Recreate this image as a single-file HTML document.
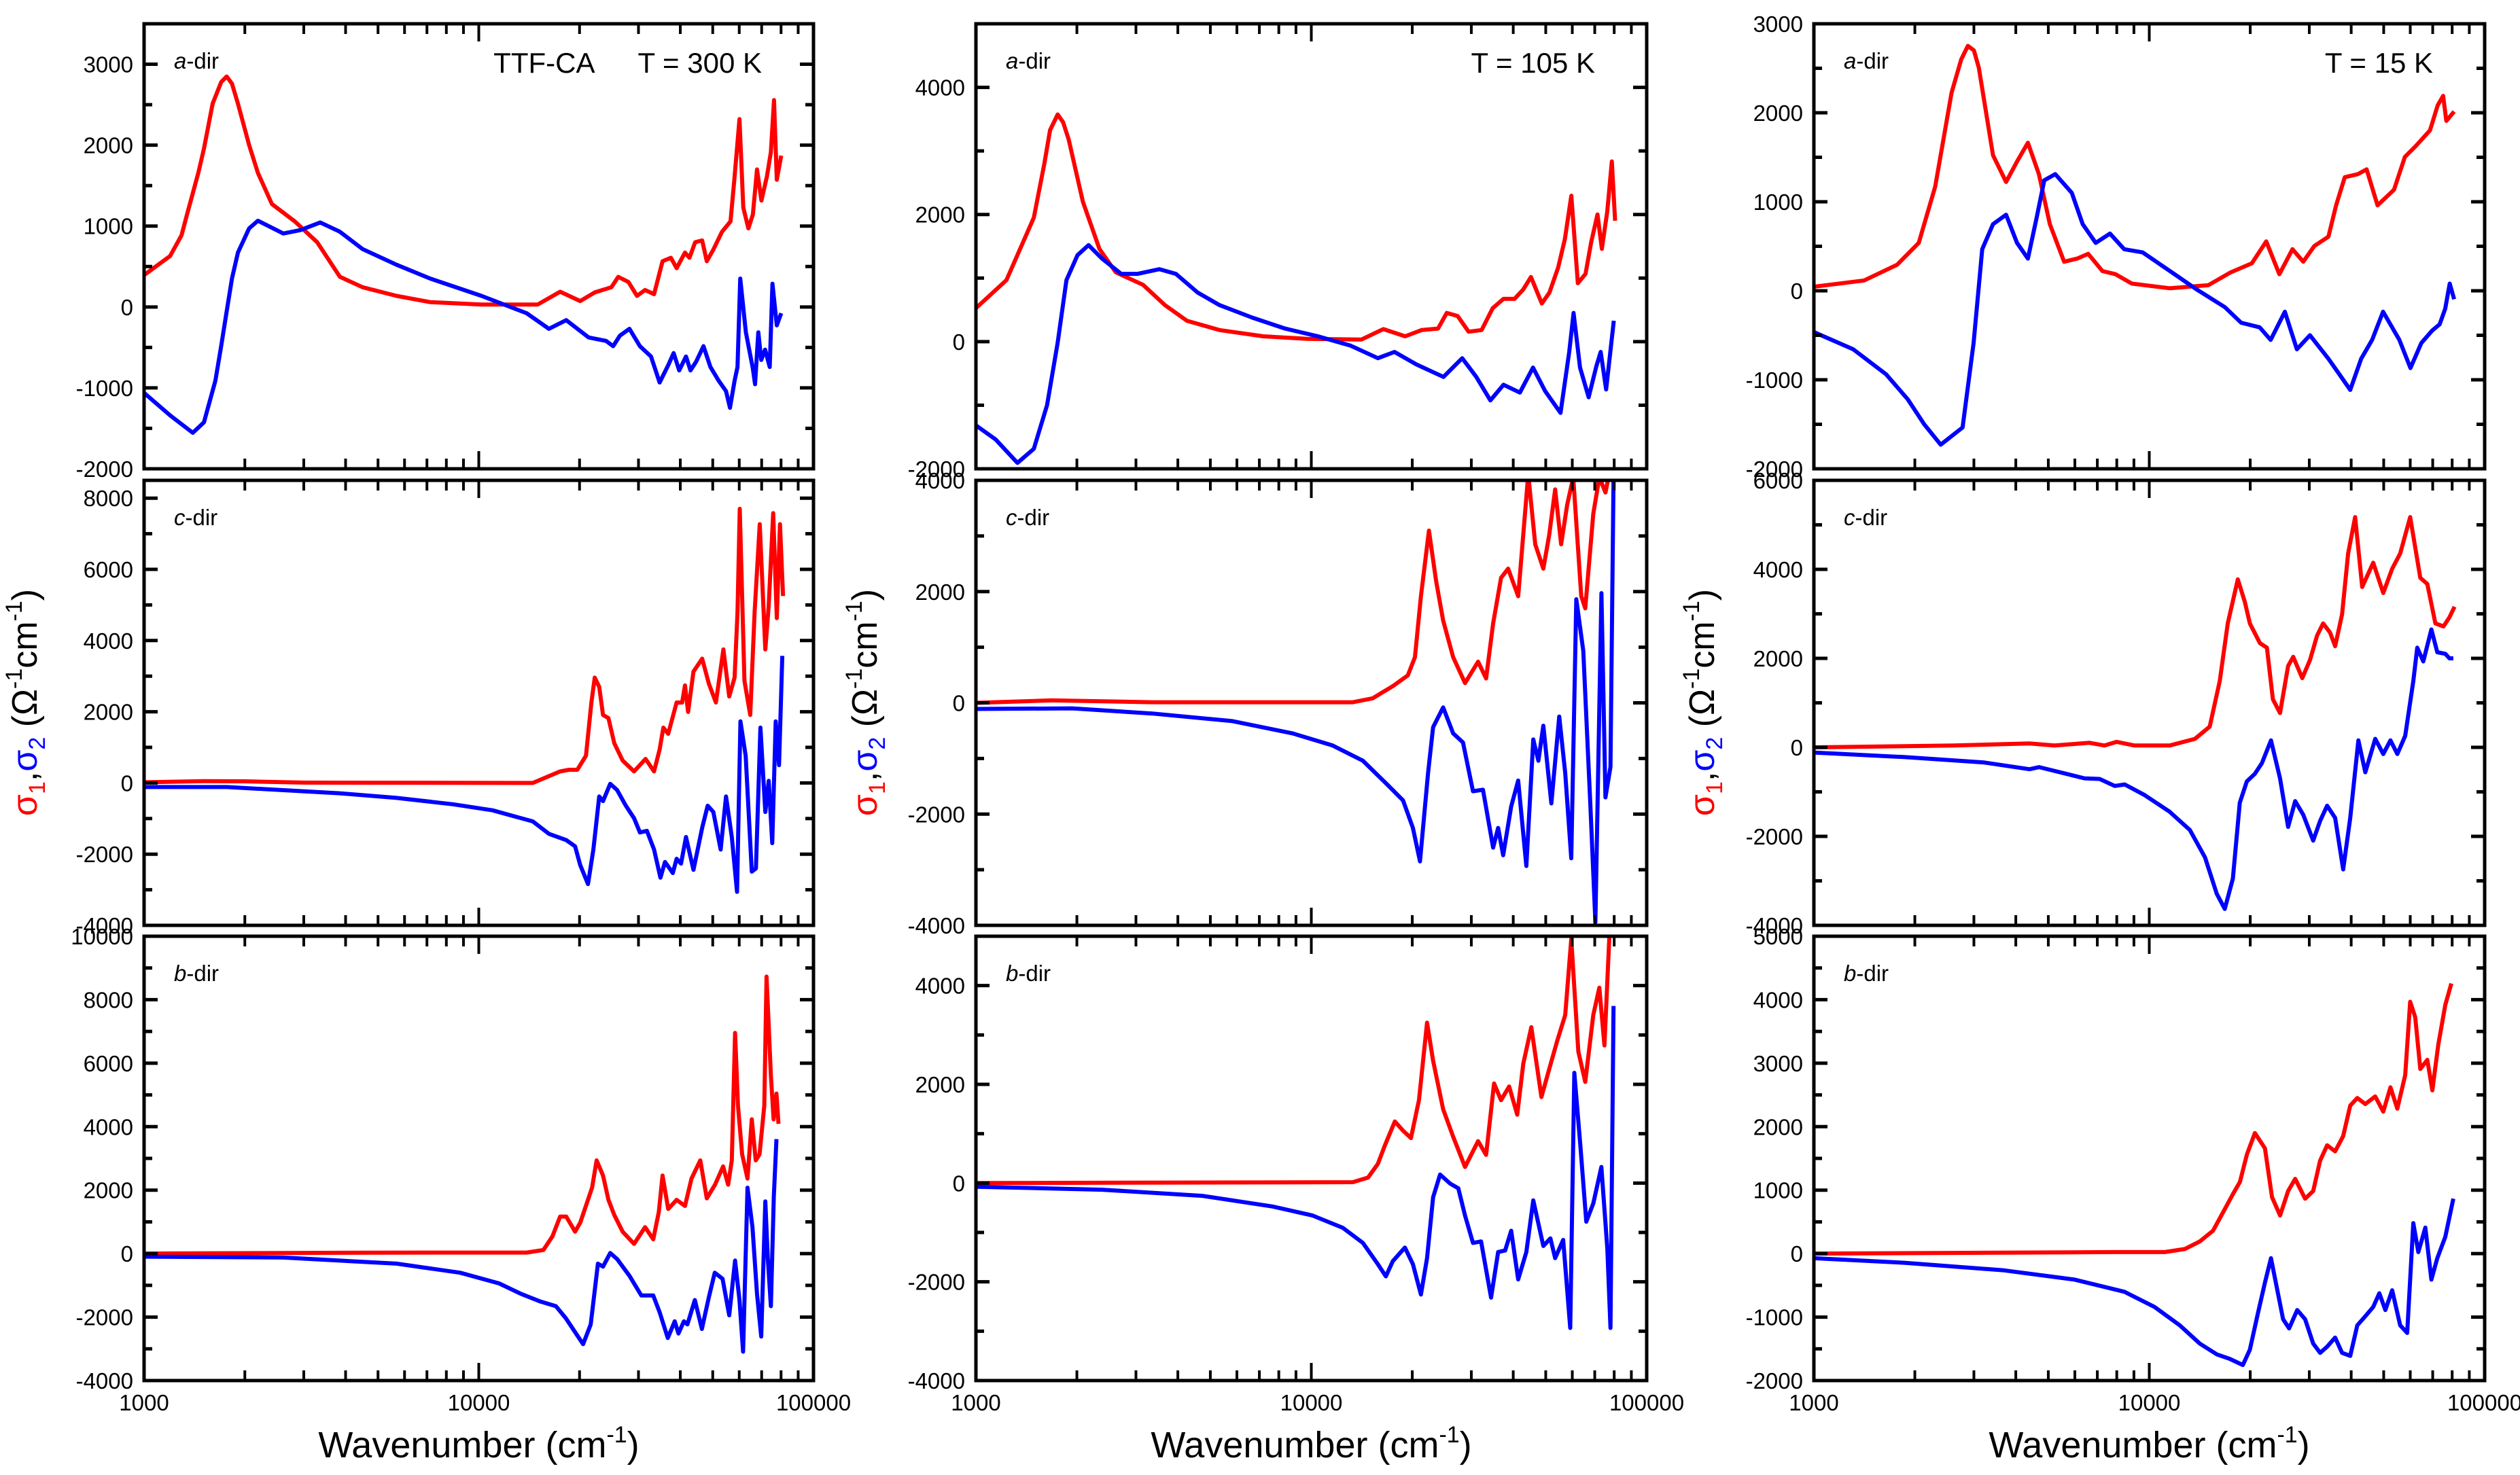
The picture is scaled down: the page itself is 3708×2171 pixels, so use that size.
<!DOCTYPE html>
<html><head><meta charset="utf-8"><style>
html,body{margin:0;padding:0;background:#fff;}
svg{display:block;font-family:"Liberation Sans",Arial,sans-serif;}
</style></head><body>
<svg id="fig" width="3708" height="2171" viewBox="0 0 3708 2171" xmlns="http://www.w3.org/2000/svg"></svg>
<script>
// ---------- DATA (wavenumber cm^-1, conductivity Ohm^-1 cm^-1) ----------
// a-dir 300 K
const w_a300_s1=[1000,1100,1196,1294,1344,1452,1510,1603,1700,1765,1830,1907,2060,2188,2410,2820,3290,3845,4500,5680,7160,10190,15000,17500,20100,22200,24900,26100,28000,29700,31400,33400,35400,37500,39000,41300,42600,44300,46500,48000,50300,53300,56500,58000,60100,61700,63900,65900,67800,69900,72600,74600,76200,77700,80100];
const v_a300_s1=[394,520,630,886,1143,1657,1957,2513,2780,2848,2760,2513,2000,1657,1272,1058,800,373,244,137,60,30,30,188,73,180,244,372,308,137,210,158,565,608,480,672,608,800,822,565,715,930,1058,1572,2321,1229,972,1143,1700,1315,1615,1914,2557,1572,1870];
const w_a300_s2=[1000,1196,1398,1510,1633,1700,1765,1830,1907,2060,2188,2606,2930,3360,3845,4500,5680,7160,10190,13900,16200,18250,21300,24000,25200,26400,28200,30300,32700,34700,36800,38200,39700,41600,42900,44600,46900,49200,52100,54800,56300,58100,59300,60400,62800,65900,66900,68400,69800,71700,74000,75400,77700,80100];
const v_a300_s2=[-1062,-1340,-1555,-1426,-912,-480,-56,350,672,972,1066,908,950,1045,930,715,522,351,137,-77,-270,-163,-377,-420,-484,-355,-270,-484,-612,-934,-720,-570,-784,-612,-784,-677,-484,-741,-912,-1040,-1246,-912,-741,351,-313,-762,-955,-313,-655,-527,-741,287,-227,-77];
// c-dir 300 K
const w_c300_s1=[1000,1500,2000,3000,14500,17500,18600,19700,20900,21700,22200,22900,23500,24400,25400,26900,29100,31500,33400,34700,35600,36800,39000,40500,41300,42200,43800,46500,48700,51100,53800,56000,58100,59300,60200,62200,64700,66700,69100,71800,73500,75800,77700,79400,81100];
const v_c300_s1=[20,50,45,10,0,325,370,370,765,2260,2960,2700,1910,1820,1115,630,325,675,325,940,1555,1380,2260,2260,2740,1995,3130,3490,2785,2260,3750,2430,2960,4800,7700,2870,1910,4810,7270,3750,4980,7580,4630,7270,5250];
const w_c300_s2=[1000,1765,3845,5680,8380,11000,14500,16200,18250,19400,20100,21200,22000,22900,23500,24700,25900,27500,29100,30300,31800,33400,34900,36000,38000,39000,40200,41600,43800,46500,48300,50200,52800,54800,57000,59100,60500,62700,65400,67300,69400,71800,73500,75300,77100,78900,80700];
const v_c300_s2=[-114,-114,-290,-420,-600,-770,-1080,-1430,-1605,-1780,-2310,-2840,-1870,-380,-510,-25,-200,-640,-990,-1390,-1345,-1870,-2660,-2220,-2530,-2130,-2265,-1520,-2440,-1260,-640,-815,-1870,-380,-1520,-3060,1730,765,-2490,-2400,1555,-815,60,-1690,1730,500,3570];
// b-dir 300 K
const w_b300_s1=[1000,5000,13900,15600,16600,17500,18250,19400,20100,21800,22500,23500,24400,25400,26900,29100,31400,33200,34500,35400,36800,39000,41300,43200,45900,48000,50800,53700,55600,57000,58300,59500,61200,63500,65400,67200,69000,71300,72400,74600,76000,77500,78600];
const v_b300_s1=[0,30,33,115,545,1167,1167,690,976,2077,2938,2460,1694,1215,690,306,833,450,1311,2460,1407,1694,1502,2364,2938,1742,2172,2747,2172,2938,6957,4660,3130,2364,4230,2938,3130,4660,8728,5617,4230,5043,4087];
const w_b300_s2=[1000,2600,5680,8800,11500,13400,15300,17000,18200,20500,21600,22700,23500,24700,25900,28200,30600,33200,34700,36700,38500,39500,41000,42000,44200,46400,48700,50700,53500,56000,58300,60100,61600,63500,65700,67800,69800,71800,73000,74600,76100,77500];
const v_b300_s2=[-96,-124,-316,-603,-938,-1273,-1512,-1656,-2038,-2852,-2230,-316,-411,19,-172,-699,-1320,-1320,-1847,-2660,-2134,-2517,-2134,-2230,-1464,-2373,-1368,-603,-794,-1943,-220,-1464,-3091,2077,833,-1273,-2613,1646,-124,-1656,1790,3608];
// a-dir 105 K
const w_a105_s1=[1000,1233,1488,1600,1664,1753,1820,1891,2085,2334,2612,3150,3660,4256,5326,7193,9709,14120,16400,19050,21320,23870,25340,27310,29440,32200,34740,37420,40350,42850,45170,48670,51300,54450,57000,59600,62330,65720,68270,71340,73500,76300,78700,80500];
const v_a105_s1=[526,968,1951,2800,3327,3573,3450,3180,2197,1459,1091,894,575,329,182,84,44,34,197,84,182,206,452,403,157,182,526,673,673,821,1017,600,772,1165,1607,2295,919,1066,1558,2000,1459,2050,2835,1902];
const w_a105_s2=[1000,1145,1330,1488,1630,1753,1862,2009,2167,2371,2712,3034,3525,3947,4584,5326,6670,8350,10470,13100,15800,17700,20570,24780,28170,31050,34200,37420,41860,45820,49780,55340,58760,60530,63270,67150,70790,72900,75700,79800];
const v_a105_s2=[-1317,-1538,-1907,-1686,-998,-15,968,1361,1518,1312,1066,1066,1140,1066,772,575,378,206,84,-64,-260,-162,-359,-555,-260,-555,-924,-678,-801,-408,-776,-1120,-162,452,-408,-875,-383,-162,-752,329];
// c-dir 105 K
const w_c105_s1=[1000,1687,3356,13300,15240,17500,19400,20370,21230,22430,23550,24720,26480,28730,31420,33200,34840,36800,38620,41380,44340,46530,49180,51200,53330,55580,57930,60380,63800,65590,69290,72250,75330,79620];
const v_c105_s1=[0,44,11,11,82,301,493,822,1918,3096,2192,1480,822,356,740,438,1425,2247,2412,1918,4110,2850,2412,3014,3836,2850,3562,4055,1918,1699,3397,4055,3781,4500];
const w_c105_s2=[1000,1936,3356,5822,8790,11580,14250,16920,18770,20090,21090,22290,23070,24720,26480,28330,30350,32500,34840,36060,37320,39450,41380,43760,45890,47540,49180,51960,54850,57140,59570,61660,64710,67900,70310,73280,75330,78000,79620];
const v_c105_s2=[-110,-99,-192,-329,-548,-767,-1041,-1480,-1754,-2248,-2850,-1260,-438,-82,-548,-712,-1589,-1562,-2603,-2248,-2740,-1863,-1397,-2932,-658,-1041,-411,-1808,-247,-1260,-2795,1863,932,-1808,-3945,1973,-1699,-1151,4055];
// b-dir 105 K
const w_b105_s1=[1000,13300,14760,15790,16560,17740,18750,19820,20940,22140,23070,24720,26480,28730,31420,33200,35060,36800,38900,41110,42850,45290,48550,51290,54080,57140,59570,62540,65590,69290,72250,74800,77400];
const v_b105_s1=[0,18,111,388,757,1249,1065,911,1680,3249,2480,1495,941,326,849,572,2018,1680,1957,1385,2419,3157,1742,2326,2880,3403,4942,2665,2049,3403,3957,2788,5003];
const w_b105_s2=[1000,2381,4732,7670,10090,12410,14250,15790,16680,17500,19010,20090,21230,22140,23070,24210,25950,27430,28730,30350,32070,34360,36060,37840,39450,41380,43760,45890,49180,51620,53330,56370,59160,60850,63420,66060,69290,73250,76330,78000,79620];
const v_b105_s2=[-74,-135,-258,-474,-658,-905,-1212,-1643,-1889,-1582,-1305,-1643,-2258,-1520,-289,172,-12,-105,-658,-1212,-1182,-2320,-1397,-1366,-966,-1951,-1397,-351,-1274,-1120,-1520,-1151,-2935,2234,757,-782,-412,326,-1336,-2935,3588];
// a-dir 15 K
const w_a15_s1=[1000,1412,1770,2054,2300,2573,2750,2878,3000,3103,3421,3742,4033,4347,4687,5054,5572,6098,6574,7250,7930,8870,11530,15010,17420,20230,22320,24420,26730,28790,31040,34210,36060,38280,41890,44470,47940,53660,57830,62340,68720,72440,75180,76880,81090];
const v_a15_s1=[46,116,292,538,1170,2225,2600,2752,2700,2506,1522,1223,1452,1663,1311,749,327,362,415,221,186,81,28,63,204,309,555,186,467,327,503,608,960,1276,1311,1364,960,1135,1504,1627,1803,2084,2190,1909,2014];
const w_a15_s2=[1000,1310,1641,1906,2133,2388,2775,2993,3177,3421,3742,4033,4347,4614,4863,5245,5874,6329,6925,7635,8420,9550,11530,13900,16790,18790,21340,23010,25370,27550,30130,34210,36880,39740,42840,46170,49770,55680,60070,64750,69780,73440,76300,78690,81090];
const v_a15_s2=[-464,-657,-938,-1220,-1501,-1729,-1536,-587,467,749,854,538,362,819,1241,1311,1100,749,538,643,467,432,221,11,-183,-359,-411,-552,-235,-657,-499,-763,-938,-1114,-763,-552,-235,-552,-868,-587,-446,-376,-200,81,-95,-60];
// c-dir 15 K
const w_c15_s1=[1000,2620,4395,5217,6632,7358,7995,9040,11500,13680,15140,16220,17140,18370,19280,19950,21380,22430,23370,24540,25940,26860,28590,30160,31640,32980,34600,35830,37580,39170,41100,43130,46530,49860,52990,55980,59980,64270,67460,71290,75370,78540,81310];
const v_c15_s1=[0,41,89,41,102,41,123,41,41,191,464,1488,2785,3775,3263,2785,2341,2239,1079,771,1829,2034,1556,1966,2512,2785,2580,2273,2990,4355,5174,3604,4150,3468,4014,4355,5174,3809,3672,2785,2717,2922,3160];
const w_c15_s2=[1000,1858,3219,4395,4697,6411,7110,7888,8451,9685,11500,13210,14660,15890,16790,17750,18620,19540,20650,21670,23060,24540,25940,27230,28790,30810,32320,33910,35830,37850,39730,42020,44080,47180,49860,52380,54900,57970,61260,62960,65610,69350,72240,76340,78540,80660];
const v_c15_s2=[-116,-218,-341,-491,-444,-696,-710,-867,-833,-1072,-1447,-1857,-2471,-3290,-3631,-2949,-1242,-765,-594,-355,157,-696,-1788,-1208,-1516,-2096,-1652,-1311,-1584,-2744,-1584,157,-560,191,-150,157,-150,259,1488,2239,1932,2649,2137,2102,2000,2000];
// b-dir 15 K
const w_b15_s1=[1000,7890,11120,12760,14150,15490,16590,17760,18630,19550,20650,22130,23220,24550,25940,27230,29150,30810,32320,33910,35830,37850,39730,41720,44080,47180,49860,52380,54900,57970,59980,62070,64270,67460,69830,72750,76340,79560];
const v_b15_s1=[0,24,24,72,192,361,649,938,1130,1563,1899,1659,890,601,986,1178,865,986,1466,1707,1611,1851,2332,2452,2356,2476,2236,2620,2284,2813,3967,3726,2909,3053,2572,3294,3919,4255];
const w_b15_s2=[1000,1858,3691,5988,8430,10370,12330,14150,15890,17380,19010,19950,21090,22130,23060,24040,25060,26120,27610,29150,30810,32320,33910,35830,37580,39730,41720,44080,46530,48530,50580,52990,55980,58760,61260,63410,66530,69350,72240,76340,80660];
const v_b15_s2=[-72,-144,-264,-409,-601,-841,-1130,-1418,-1587,-1659,-1755,-1514,-938,-457,-72,-553,-1034,-1178,-889,-1034,-1418,-1563,-1466,-1322,-1563,-1611,-1130,-986,-841,-625,-889,-577,-1130,-1250,481,24,409,-409,-72,265,865];

// ---------- Panel axis ranges ----------
const yMin=[[-2000,-4000,-4000],[-2000,-4000,-4000],[-2000,-4000,-2000]]; // [col][row]
const yMax=[[3500,8500,10000],[5000,4000,5000],[3000,6000,5000]];
const yStep=[[1000,2000,2000],[2000,2000,2000],[1000,2000,1000]];
const dirLabels=["a","c","b"];
const tempLabels=["TTF-CA\u2003\u2002T = 300 K","T = 105 K","T = 15 K"];

const S1=[[w_a300_s1,v_a300_s1],[w_c300_s1,v_c300_s1],[w_b300_s1,v_b300_s1],[w_a105_s1,v_a105_s1],[w_c105_s1,v_c105_s1],[w_b105_s1,v_b105_s1],[w_a15_s1,v_a15_s1],[w_c15_s1,v_c15_s1],[w_b15_s1,v_b15_s1]];
const S2=[[w_a300_s2,v_a300_s2],[w_c300_s2,v_c300_s2],[w_b300_s2,v_b300_s2],[w_a105_s2,v_a105_s2],[w_c105_s2,v_c105_s2],[w_b105_s2,v_b105_s2],[w_a15_s2,v_a15_s2],[w_c15_s2,v_c15_s2],[w_b15_s2,v_b15_s2]];

// ---------- Layout ----------
const colX=[[212,1197],[1436,2423],[2669,3656]];
const rowY=[[35,690],[707,1362],[1378,2032]];
const NS="http://www.w3.org/2000/svg";
const svg=document.getElementById('fig');
function mk(tag,attrs,parent){const e=document.createElementNS(NS,tag);for(const k in attrs)e.setAttribute(k,attrs[k]);(parent||svg).appendChild(e);return e;}
const defs=mk('defs',{});

for(let c=0;c<3;c++){
  const x0=colX[c][0],x1=colX[c][1];
  for(let r=0;r<3;r++){
    const y0=rowY[r][0],y1=rowY[r][1];
    const ymn=yMin[c][r],ymx=yMax[c][r],st=yStep[c][r];
    const xs=w=>x0+(Math.log10(w)-3)/2*(x1-x0);
    const ys=v=>y1-(v-ymn)/(ymx-ymn)*(y1-y0);
    const g=mk('g',{});
    
    
    const cp=mk('clipPath',{id:'cp'+c+r},defs);
    mk('rect',{x:x0,y:y0,width:x1-x0,height:y1-y0},cp);
    const draw=(pair,color,name)=>{
      const w=pair[0],v=pair[1];let d='';
      for(let i=0;i<w.length;i++)d+=(i?'L':'M')+xs(w[i]).toFixed(1)+' '+ys(v[i]).toFixed(1);
      const p=mk('path',{d:d,fill:'none',stroke:color,'stroke-width':6,'stroke-linejoin':'round','clip-path':'url(#cp'+c+r+')'},g);
      
      
    };
    draw(S1[c*3+r],'#ff0000','sigma1-line');
    draw(S2[c*3+r],'#0000ff','sigma2-line');
    const fr=mk('rect',{x:x0,y:y0,width:x1-x0,height:y1-y0,fill:'none',stroke:'#000','stroke-width':5},g);
    
    
    for(let dec=1000;dec<=10000;dec*=10){
      for(let m=1;m<=10;m++){
        const w=dec*m; if(m===10&&dec!==10000)continue;
        const X=xs(w),L=(m===1||m===10)?26:15;
        mk('line',{x1:X,y1:y1,x2:X,y2:y1-L,stroke:'#000','stroke-width':4},g);
        mk('line',{x1:X,y1:y0,x2:X,y2:y0+L,stroke:'#000','stroke-width':4},g);
      }
    }
    for(let v=Math.ceil(ymn/(st/2))*(st/2);v<=ymx+1e-6;v+=st/2){
      const Y=ys(v),major=Math.abs(v/st-Math.round(v/st))<1e-6,L=major?20:12;
      mk('line',{x1:x0,y1:Y,x2:x0+L,y2:Y,stroke:'#000','stroke-width':5},g);
      mk('line',{x1:x1,y1:Y,x2:x1-L,y2:Y,stroke:'#000','stroke-width':5},g);
      if(major){
        const t=mk('text',{x:x0-16,y:Y+12,'text-anchor':'end','font-size':33,fill:'#000'},g);
        t.textContent=String(v);
        
        
      }
    }
    const dl=mk('text',{x:x0+44,y:y0+66,'font-size':33,fill:'#000'},g);
    
    
    const it=mk('tspan',{'font-style':'italic'},dl);it.textContent=dirLabels[r];
    const rest=mk('tspan',{},dl);rest.textContent='-dir';
    if(r===0){
      const tl=mk('text',{x:x1-76,y:y0+72,'text-anchor':'end','font-size':42,fill:'#000',style:'white-space:pre'},g);
      tl.textContent=tempLabels[c];
      
      
    }
    if(r===2){
      [[1000,'1000'],[10000,'10000'],[100000,'100000']].forEach(a=>{
        const t=mk('text',{x:xs(a[0]),y:y1+44,'text-anchor':'middle','font-size':33,fill:'#000'},g);
        t.textContent=a[1];
        
        
      });
    }
  }
  const xt=mk('text',{x:(x0+x1)/2,y:2145,'text-anchor':'middle','font-size':54,fill:'#000'});
  
  
  xt.appendChild(document.createTextNode('Wavenumber (cm'));
  const sp=mk('tspan',{'font-size':34,dy:-22},xt);sp.textContent='-1';
  const sp2=mk('tspan',{dy:22},xt);sp2.textContent=')';
  const yx=[54,1290,2522][c];
  const yt=mk('text',{transform:'translate('+yx+',1034) rotate(-90)','text-anchor':'middle','font-size':52,fill:'#000'});
  
  
  const parts=[['σ','#ff0000',0,52],['1','#ff0000',12,34],[',','#000',-12,52],['σ','#0000ff',0,52],['2','#0000ff',12,34],[' (Ω','#000',-12,52],['-1','#000',-22,34],['cm','#000',22,52],['-1','#000',-22,34],[')','#000',22,52]];
  parts.forEach(p=>{const t=mk('tspan',{fill:p[1],dy:p[2],'font-size':p[3]},yt);t.textContent=p[0];});
}
</script>
</body></html>
